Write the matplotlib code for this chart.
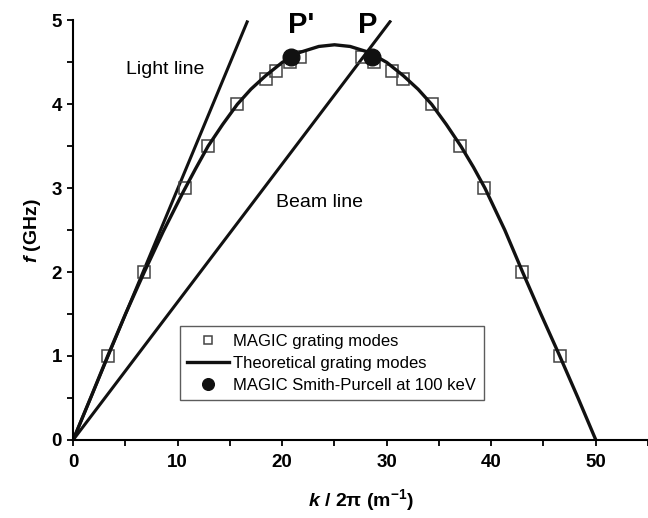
import numpy as np
import matplotlib
matplotlib.use('Agg')
import matplotlib.pyplot as plt
from matplotlib.ticker import MultipleLocator

plt.rcParams['font.family'] = ['Liberation Sans', 'DejaVu Sans']
plt.rcParams['mathtext.fontset'] = 'custom'
plt.rcParams['mathtext.rm'] = 'Liberation Sans'
plt.rcParams['mathtext.bf'] = 'Liberation Sans:bold'
plt.rcParams['mathtext.it'] = 'Liberation Sans:italic'
plt.rcParams['mathtext.bfit'] = 'Liberation Sans:italic:bold'

# MAGIC grating modes (k/2pi in 1/m, f in GHz)
magic_k = [3.35, 6.8, 10.65, 12.85, 15.7, 18.4, 19.45, 20.75, 21.7,
           27.6, 28.8, 30.5, 31.6, 34.3, 37.0, 39.35, 42.9, 46.6]
magic_f = [1.0, 2.0, 3.0, 3.5, 4.0, 4.3, 4.4, 4.5, 4.57,
           4.57, 4.5, 4.4, 4.3, 4.0, 3.5, 3.0, 2.0, 1.0]

# theoretical grating mode curve
theo_k = [0, 1.7, 3.3, 5.0, 6.8, 8.6, 10.5, 11.7, 12.9, 14.3, 15.7, 17.0, 18.4,
          20.0, 21.7, 23.5, 25.0, 26.5, 28.3, 30.0, 31.6, 33.0, 34.3, 35.7,
          37.1, 38.3, 39.4, 41.3, 43.0, 44.75, 46.55, 48.3, 50.0]
theo_f = [0, 0.51, 1.0, 1.5, 2.0, 2.48, 2.95, 3.23, 3.5, 3.76, 4.0, 4.18, 4.34,
          4.5, 4.62, 4.69, 4.71, 4.69, 4.62, 4.5, 4.34, 4.18, 4.0, 3.76,
          3.5, 3.25, 3.0, 2.5, 2.0, 1.5, 1.0, 0.5, 0]

# Smith-Purcell points P' and P
sp_k = [20.8, 28.6]
sp_f = [4.57, 4.57]

# light line and beam line end points
light_k = [0, 16.7]
light_f = [0, 5.0]
beam_k = [0, 30.4]
beam_f = [0, 5.0]

fig = plt.figure(figsize=(6.48, 5.18), dpi=100)
ax = fig.add_axes([0.113, 0.151, 0.887, 0.8095])

ax.plot(light_k, light_f, color='#111111', lw=2.2, solid_capstyle='butt')
ax.plot(beam_k, beam_f, color='#111111', lw=2.2, solid_capstyle='butt')
ax.plot(magic_k, magic_f, ls='none', marker='s', ms=9, mfc='none',
        mec='#444444', mew=1.1, label='MAGIC grating modes')
ax.plot(theo_k, theo_f, color='#111111', lw=2.4, label='Theoretical grating modes')
ax.plot(sp_k, sp_f, ls='none', marker='o', ms=12, color='#111111',
        label='MAGIC Smith-Purcell at 100 keV', zorder=5)

ax.text(5.05, 4.42, 'Light line', fontsize=14, va='center', ha='left')
ax.text(19.4, 2.83, 'Beam line', fontsize=14, va='center', ha='left')
ax.text(21.8, 4.95, "P'", fontsize=21, fontweight='bold', ha='center', va='center')
ax.text(28.2, 4.95, 'P', fontsize=21, fontweight='bold', ha='center', va='center')

ax.set_xlim(0, 55)
ax.set_ylim(0, 5)
ax.xaxis.set_major_locator(MultipleLocator(10))
ax.xaxis.set_minor_locator(MultipleLocator(5))
ax.yaxis.set_major_locator(MultipleLocator(1))
ax.yaxis.set_minor_locator(MultipleLocator(0.5))
ax.set_xticks([0, 10, 20, 30, 40, 50])
ax.spines['top'].set_visible(False)
ax.spines['right'].set_visible(False)
for s in ['left', 'bottom']:
    ax.spines[s].set_linewidth(1.5)
ax.tick_params(which='both', direction='out', length=4.5, width=1.3)
ax.tick_params(axis='x', pad=6)
for lab in ax.get_xticklabels() + ax.get_yticklabels():
    lab.set_fontweight('bold')
    lab.set_fontsize(13.5)

ax.set_xlabel(r'$\mathbfit{k}$ / 2π (m$^{\mathbf{-1}}$)', fontsize=14,
              fontweight='bold', labelpad=11)
ax.set_ylabel(r'$\mathbfit{f}$ (GHz)', fontsize=14, fontweight='bold', labelpad=6)

leg = ax.legend(loc='lower left', bbox_to_anchor=(10.2, 0.47),
                bbox_transform=ax.transData, borderaxespad=0, fontsize=12,
                frameon=True, fancybox=False, edgecolor='#333333',
                handlelength=2.5, handletextpad=0.25, labelspacing=0.42,
                borderpad=0.45, markerscale=0.7)
leg.get_frame().set_linewidth(1.0)

fig.savefig('out.png', dpi=100)
